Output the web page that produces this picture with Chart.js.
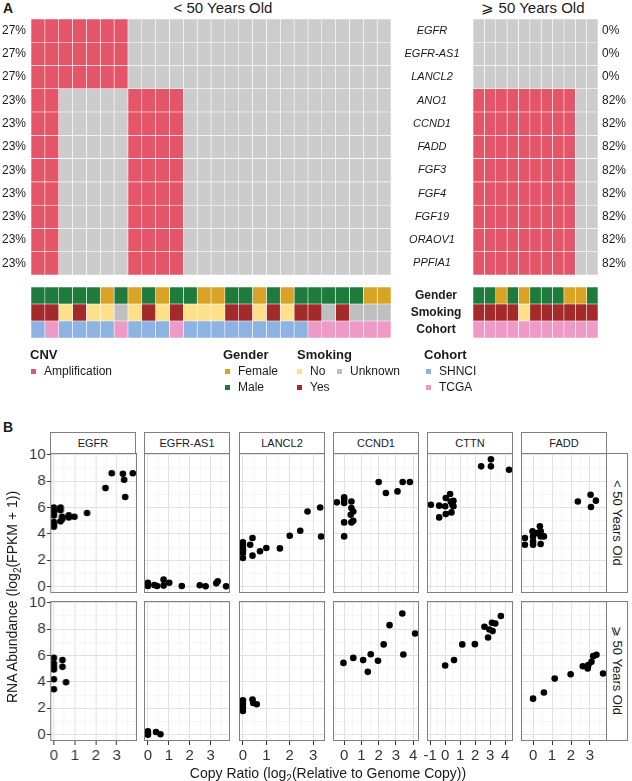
<!DOCTYPE html>
<html lang="en">
<head>
<meta charset="UTF-8">
<title>CNV and RNA abundance by age group</title>
<script src="https://cdn.jsdelivr.net/npm/chart.js"></script>
<style>
  body { margin: 0; background: #fff; font-family: "Liberation Sans", Arial, Helvetica, sans-serif; color: #1a1a1a; }
  #page { position: relative; width: 632px; height: 781px; overflow: hidden; }
  .t { position: absolute; white-space: nowrap; line-height: 20px; height: 20px; }
  .strip { position: absolute; box-sizing: border-box; border: 1px solid #808080; background: #fff; text-align: center; white-space: nowrap; }
  .sq { position: absolute; width: 5px; height: 5px; }
  canvas { position: absolute; }
</style>
</head>
<body>
<div id="page"></div>
<script>
// ---- panel A data ----
const genes = ['EGFR', 'EGFR-AS1', 'LANCL2', 'ANO1', 'CCND1', 'FADD', 'FGF3', 'FGF4', 'FGF19', 'ORAOV1', 'PPFIA1'];
// one character per patient, 1 = amplification
const ampYoung = [
  '11111110000000000000000000',
  '11111110000000000000000000',
  '11111110000000000000000000',
  '11000001111000000000000000',
  '11000001111000000000000000',
  '11000001111000000000000000',
  '11000001111000000000000000',
  '11000001111000000000000000',
  '11000001111000000000000000',
  '11000001111000000000000000',
  '11000001111000000000000000'
];
const ampOld = [
  '00000000000', '00000000000', '00000000000',
  '11111111100', '11111111100', '11111111100', '11111111100',
  '11111111100', '11111111100', '11111111100', '11111111100'
];
const tracks = ['Gender', 'Smoking', 'Cohort'];
// M male, F female / Y yes, N no, U unknown / S SHNCI, T TCGA
const genderYoung  = 'MMMMMFMFMFMMFFMMFMFMMMMMFF';
const smokingYoung = 'YYNYNNUNYNYNNNYYNYNYYUYUUU';
const cohortYoung  = 'STSSSSTSSSTSSSSSSSSSTTTTTT';
const genderOld  = 'MMFMFMMMFFM';
const smokingOld = 'YYYYNYYYYYY';
const cohortOld  = 'TTTTTTTTTTT';

// ---- panel B data: [copy ratio, RNA abundance] ----
const facetGenes = ['EGFR', 'EGFR-AS1', 'LANCL2', 'CCND1', 'CTTN', 'FADD'];
const egfrYoung = [[0,6.0],[0,5.8],[0,5.6],[0,5.4],[0,4.9],[0,4.7],[0,4.55],[0.32,6.0],[0.32,5.8],[0.32,4.95],
  [0.39,5.3],[0.39,5.1],[0.71,5.25],[0.71,5.4],[0.98,5.3],[1.58,5.58],[2.46,7.47],[2.76,8.6],[3.29,8.55],[3.35,8.1],[3.4,6.8],[3.76,8.6]];
const egfrOld = [[0,5.82],[0,5.39],[0,5.14],[0,4.94],[0,4.2],[0,3.44],[0.41,5.65],[0.41,5.14],[0.58,3.97]];
const egfrAs1Young = [[0,0.3],[0,0.15],[0,0.05],[0.31,0.12],[0.44,0.05],[0.75,0.53],[0.75,0.08],[1.02,0.3],
  [1.62,0.05],[2.48,0.1],[2.76,0.03],[3.27,0.25],[3.34,0.4],[3.74,0.02]];
const egfrAs1Old = [[0,0.25],[0,0.08],[0,0],[0.39,0.2],[0.6,0.03]];
const lancl2Young = [[0,3.36],[0,3.18],[0,2.93],[0,2.75],[0,2.55],[0,2.17],[0.31,3.18],[0.41,3.69],[0.41,2.35],
  [0.73,2.68],[1.0,2.93],[1.58,2.9],[2.0,3.86],[2.45,4.24],[2.76,5.7],[3.3,6.0],[3.34,3.8]];
const lancl2Old = [[0,2.6],[0,2.35],[0,2.1],[0,1.8],[0.41,2.66],[0.44,2.4],[0.59,2.3]];
const ccnd1Young = [[-0.42,6.39],[0,6.77],[0,6.6],[0,6.34],[0,4.87],[0,3.81],[0.42,6.46],[0.42,5.96],[0.53,5.7],
  [0.38,5.45],[0.53,5.0],[0.42,4.87],[2.0,7.93],[2.42,7.1],[3.09,7.22],[3.39,7.93],[3.81,7.93]];
const ccnd1Old = [[-0.04,5.44],[0.53,5.82],[1.1,5.65],[1.37,4.76],[1.54,6.1],[1.96,5.6],[2.29,6.84],[2.63,8.3],
  [3.37,9.19],[3.43,6.08],[4.11,7.67]];
const cttnYoung = [[-0.95,6.21],[-0.4,6.14],[-0.4,5.25],[0.04,6.72],[0,6.09],[0.04,5.5],[0.33,7.02],[0.37,6.46],
  [0.48,6.21],[0.55,6.5],[0.55,6.09],[0.42,5.63],[2.4,9.12],[3.05,9.65],[3.05,9.12],[4.26,8.86]];
const cttnOld = [[0,5.24],[0.59,5.65],[1.14,6.84],[1.98,6.86],[2.62,8.18],[2.86,7.37],[2.95,7.97],[3.12,8.48],
  [3.16,7.85],[3.34,8.43],[3.71,8.99]];
const faddYoung = [[-0.43,3.69],[-0.43,3.18],[-0.03,4.19],[0,3.81],[0,3.43],[0,3.18],[0.36,4.57],[0.4,4.19],
  [0.4,3.81],[0.4,3.23],[0.57,3.81],[0.22,4.07],[2.36,6.46],[3.03,6.97],[3.05,6.04],[3.31,6.52]];
const faddOld = [[0,2.73],[0.57,3.19],[1.14,4.25],[1.98,4.58],[2.62,5.19],[2.88,5.01],[2.91,5.27],[3.08,5.52],
  [3.17,5.95],[3.34,6.05],[3.69,4.63]];
const youngPts = [egfrYoung, egfrAs1Young, lancl2Young, ccnd1Young, cttnYoung, faddYoung];
const oldPts = [egfrOld, egfrAs1Old, lancl2Old, ccnd1Old, cttnOld, faddOld];

const colors = {
  amp: '#E4556A', none: '#CCCCCC',
  M: '#1E7B3C', F: '#D9A325',
  Y: '#A3292B', N: '#FCE08A', U: '#BFBFBF',
  S: '#8DB3E2', T: '#EE9AC6'
};

Chart.defaults.font.family = '"Liberation Sans", Arial, Helvetica, sans-serif';
Chart.defaults.color = '#1a1a1a';
const page = document.getElementById('page');

function addCanvas(left, top, w, h) {
  const c = document.createElement('canvas');
  c.width = w; c.height = h;
  c.style.cssText = `left:${left}px;top:${top}px;width:${w}px;height:${h}px`;
  page.appendChild(c);
  return c;
}

function label(html, x, y, o = {}) {
  const d = document.createElement('div');
  d.className = 't';
  d.innerHTML = html;
  d.style.fontSize = (o.size || 12) + 'px';
  d.style.top = (y - 10) + 'px';
  if (o.bold) d.style.fontWeight = 'bold';
  if (o.center) { d.style.left = (x - 200) + 'px'; d.style.width = '400px'; d.style.textAlign = 'center'; }
  else d.style.left = x + 'px';
  if (o.rotate) d.style.transform = `rotate(${o.rotate}deg)`;
  page.appendChild(d);
  return d;
}

function textWidth(list, font) {
  const ctx = document.createElement('canvas').getContext('2d');
  ctx.font = font;
  return Math.max(...list.map(s => ctx.measureText(s).width));
}

const pct = s => Math.round(100 * s.split('').filter(ch => ch === '1').length / s.length) + '%';
const noGrid = { display: false, drawTicks: false };
const EDGE = 24; // spare room above/below each tile grid for tick label overhang

// stacked horizontal bars: one dataset per patient column, one bar slot per row
function tiles(left, top, w, h, rowLabels, rows, colorOf, yScales) {
  const canvas = addCanvas(left, top - EDGE, w, h + 2 * EDGE);
  const ncol = rows[0].length;
  const datasets = [];
  for (let j = 0; j < ncol; j++) {
    datasets.push({
      data: rowLabels.map(() => 1),
      backgroundColor: rowLabels.map((_, i) => colorOf(rows[i][j])),
      borderColor: '#ffffff', borderWidth: 0.6, borderSkipped: false,
      barPercentage: 1, categoryPercentage: 1
    });
  }
  return new Chart(canvas, {
    type: 'bar',
    data: { labels: rowLabels, datasets },
    options: {
      indexAxis: 'y', responsive: false, animation: false, devicePixelRatio: 1,
      layout: { padding: { left: 0, right: 0, top: EDGE, bottom: EDGE } },
      plugins: { legend: { display: false }, tooltip: { enabled: false } },
      scales: Object.assign({ x: { stacked: true, display: false, min: 0, max: ncol } }, yScales)
    }
  });
}

const cnvColor = v => v === '1' ? colors.amp : colors.none;
const annoColor = v => colors[v];

// ---- panel A ----
label('A', 3, 8, { size: 14, bold: true });
label('&lt; 50 Years Old', 223, 8, { size: 15, center: true });
label('\u2A7E 50 Years Old', 533, 8, { size: 15, center: true });

tiles(0, 19, 391, 256, genes, ampYoung, cnvColor, {
  y: { stacked: true, grid: noGrid, border: { display: false },
       ticks: { callback: (v, i) => pct(ampYoung[i]), font: { size: 12 }, padding: 5 },
       afterFit: s => { s.width = 31; } }
});

const genePad = Math.max(0, 41 - textWidth(genes, 'italic 11px "Liberation Sans"') / 2);
tiles(395, 19, 237, 256, genes, ampOld, cnvColor, {
  y: { stacked: true, grid: noGrid, border: { display: false },
       ticks: { crossAlign: 'center', font: { size: 11, style: 'italic' }, padding: genePad },
       afterFit: s => { s.width = 78; } },
  y2: { type: 'category', labels: genes, offset: true, position: 'right', grid: noGrid, border: { display: false },
        ticks: { callback: (v, i) => pct(ampOld[i]), font: { size: 12 }, padding: 4 },
        afterFit: s => { s.width = 34; } }
});

tiles(31, 287, 360, 51, tracks, [genderYoung, smokingYoung, cohortYoung], annoColor, {
  y: { stacked: true, display: false }
});
const trackPad = Math.max(0, 37 - textWidth(tracks, 'bold 12px "Liberation Sans"') / 2);
tiles(395, 287, 203, 51, tracks, [genderOld, smokingOld, cohortOld], annoColor, {
  y: { stacked: true, grid: noGrid, border: { display: false },
       ticks: { crossAlign: 'center', autoSkip: false, font: { size: 12, weight: 'bold' }, padding: trackPad },
       afterFit: s => { s.width = 78; } }
});

// legend
function legendItem(text, color, x, y) {
  const sq = document.createElement('div');
  sq.className = 'sq';
  sq.style.left = x + 'px';
  sq.style.top = (y - 2.5) + 'px';
  sq.style.background = color;
  page.appendChild(sq);
  label(text, x + 13, y, { size: 12 });
}
label('CNV', 30, 355, { size: 13, bold: true });
legendItem('Amplification', colors.amp, 31, 371);
label('Gender', 223, 355, { size: 13, bold: true });
legendItem('Female', colors.F, 225, 371);
legendItem('Male', colors.M, 225, 387);
label('Smoking', 297, 355, { size: 13, bold: true });
legendItem('No', colors.N, 297, 371);
legendItem('Unknown', colors.U, 337, 371);
legendItem('Yes', colors.Y, 297, 387);
label('Cohort', 424, 355, { size: 13, bold: true });
legendItem('SHNCI', colors.S, 426, 371);
legendItem('TCGA', colors.T, 426, 387);

// ---- panel B ----
label('B', 3, 427, { size: 14, bold: true });

const allY = youngPts.concat(oldPts).flat().map(p => p[1]);
const yMin = Math.min(...allY), yMax = Math.max(...allY), yPad = 0.05 * (yMax - yMin);

const onStep = (v, step) => Math.abs(v / step - Math.round(v / step)) < 1e-6;
const panelBorder = {
  id: 'panelBorder',
  afterDraw(chart) {
    const { ctx, chartArea: a } = chart;
    ctx.save();
    ctx.strokeStyle = '#808080';
    ctx.lineWidth = 1;
    ctx.strokeRect(Math.round(a.left) + 0.5, Math.round(a.top) + 0.5, Math.round(a.width) - 1, Math.round(a.height) - 1);
    ctx.restore();
  }
};

// ticks every `step` inside [min, max]
function stepTicks(step) {
  return s => {
    const out = [];
    for (let k = Math.ceil(s.min / step - 1e-9); k * step <= s.max + 1e-9; k++) out.push({ value: +(k * step).toFixed(6) });
    s.ticks = out;
  };
}

function gridOpts(major, showTicks, len) {
  const isMajor = c => c.tick && onStep(c.tick.value, major);
  return {
    color: c => isMajor(c) ? '#e1e1e1' : '#f0f0f0',
    lineWidth: c => isMajor(c) ? 1 : 0.6,
    drawTicks: showTicks, tickLength: len, tickWidth: 1,
    tickColor: c => isMajor(c) ? '#333' : 'rgba(0,0,0,0)'
  };
}

const PW = 86, PH = 140;
facetGenes.forEach((g, c) => {
  const left = Math.round(50 + c * 94.25);
  const xs = youngPts[c].concat(oldPts[c]).map(p => p[0]);
  const xMin = Math.min(...xs), xMax = Math.max(...xs), xPad = 0.05 * (xMax - xMin);

  const strip = document.createElement('div');
  strip.className = 'strip';
  strip.style.cssText = `left:${left}px;top:432px;width:${PW}px;height:22px;font-size:11px;line-height:20px`;
  strip.textContent = g;
  page.appendChild(strip);

  [youngPts[c], oldPts[c]].forEach((pts, r) => {
    const top = r ? 601 : 453;
    const showY = c === 0, showX = r === 1;
    const cv = addCanvas(0, 0, PW + 60, PH + 40);
    const chart = new Chart(cv, {
      type: 'scatter',
      data: { datasets: [{ data: pts.map(p => ({ x: p[0], y: p[1] })), backgroundColor: '#000', borderWidth: 0, pointRadius: 3.3, pointHoverRadius: 3.3 }] },
      options: {
        responsive: false, maintainAspectRatio: false, animation: false, devicePixelRatio: 1,
        layout: { padding: 8 },
        plugins: { legend: { display: false }, tooltip: { enabled: false } },
        scales: {
          x: {
            type: 'linear', position: 'bottom', min: xMin - xPad, max: xMax + xPad, bounds: 'data',
            afterBuildTicks: stepTicks(0.5),
            grid: gridOpts(1, showX, 4), border: { display: false },
            ticks: { display: showX, autoSkip: false, maxRotation: 0,
                     callback: v => onStep(v, 1) ? String(Math.round(v)) : '', font: { size: 15 }, color: '#333', padding: 2 }
          },
          y: {
            type: 'linear', position: 'left', min: yMin - yPad, max: yMax + yPad, bounds: 'data',
            afterBuildTicks: stepTicks(1),
            grid: gridOpts(2, showY, 3), border: { display: false },
            ticks: { display: showY, autoSkip: false,
                     callback: v => onStep(v, 2) ? String(Math.round(v)) : '', font: { size: 15 }, color: '#333', padding: 1 }
          }
        }
      },
      plugins: [panelBorder]
    });
    // size the canvas so the plot area is exactly PW x PH, then move it into place
    let a = chart.chartArea;
    chart.resize(cv.width + PW - (a.right - a.left), cv.height + PH - (a.bottom - a.top));
    a = chart.chartArea;
    cv.style.left = (left - a.left) + 'px';
    cv.style.top = (top - a.top) + 'px';
  });
});

['&lt; 50 Years Old', '\u2A7E 50 Years Old'].forEach((txt, r) => {
  const s = document.createElement('div');
  s.className = 'strip';
  s.style.cssText = `left:606px;top:${r ? 601 : 453}px;width:22px;height:${PH}px;font-size:13px;line-height:20px;writing-mode:vertical-rl`;
  s.innerHTML = txt;
  page.appendChild(s);
});

label('RNA Abundance (log<sub style="font-size:10px">2</sub>(FPKM + 1))', 12, 597, { size: 14, center: true, rotate: -90 });
label('Copy Ratio (log<sub style="font-size:10px">2</sub>(Relative to Genome Copy))', 328, 773, { size: 14, center: true });
</script>
</body>
</html>
